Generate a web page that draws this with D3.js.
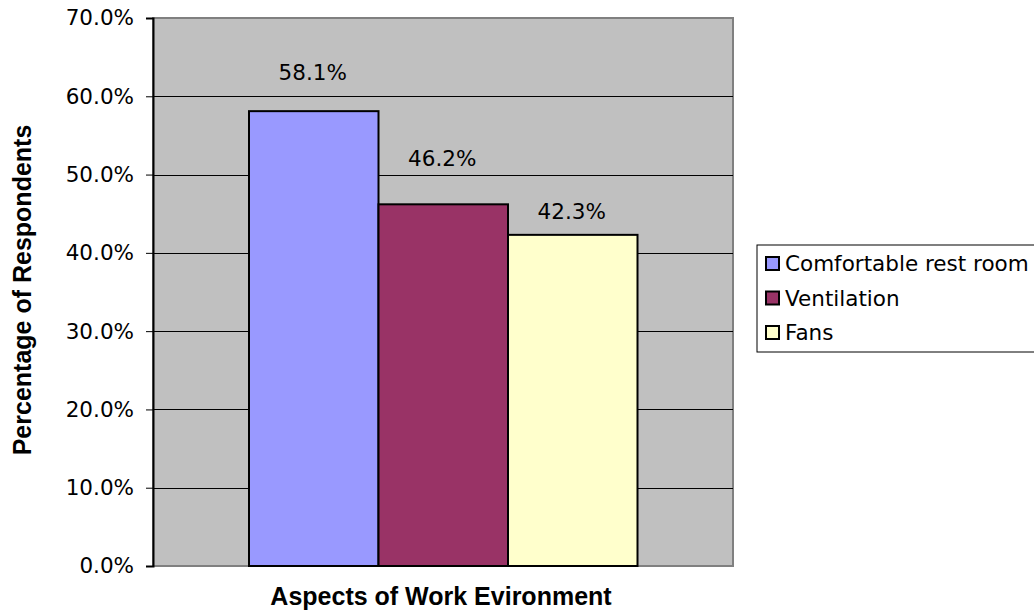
<!DOCTYPE html>
<html>
<head>
<meta charset="utf-8">
<script src="https://cdn.jsdelivr.net/npm/d3@7"></script>
<style>
  body { margin: 0; background: #fff; }
  svg { display: block; }
</style>
</head>
<body>
<svg id="chart" width="1034" height="614"></svg>
<script>
// Chart data.
const series  = [ 'Comfortable rest room', 'Ventilation', 'Fans' ];
const values  = [ 58.1, 46.2, 42.3 ];
const colors  = [ '#9999ff', '#993366', '#ffffcc' ];
const yTicks  = [ 0, 10, 20, 30, 40, 50, 60, 70 ];
// Excel nudges its labels around, so each one gets its own lift (px).
const labelLift = [ 31, 38, 16 ];

const plot = { left: 153, right: 733, top: 18, bottom: 566 };
const svg  = d3.select( '#chart' );
const bodyFont  = 'DejaVu Sans, Verdana, sans-serif';
const titleFont = 'Liberation Sans, Arial, sans-serif';
const fontSize  = 21.5;

const y = d3.scaleLinear( ).domain( [ 0, 70 ] ).range( [ plot.bottom, plot.top ] );
const x = d3.scaleBand( ).domain( series ).range( [ 249, 637.5 ] ).paddingInner( 0 );

// Plot area background and frame.
svg.append( 'rect' )
  .attr( 'x', plot.left ).attr( 'y', plot.top )
  .attr( 'width', plot.right - plot.left ).attr( 'height', plot.bottom - plot.top )
  .attr( 'fill', '#c0c0c0' ).attr( 'stroke', '#808080' ).attr( 'stroke-width', 2 );

// Gridlines.
svg.append( 'g' ).selectAll( 'line' )
  .data( yTicks.filter( t => t > 0 && t < 70 ) )
  .join( 'line' )
  .attr( 'x1', plot.left ).attr( 'x2', plot.right )
  .attr( 'y1', d => Math.round( y( d ) ) + 0.5 ).attr( 'y2', d => Math.round( y( d ) ) + 0.5 )
  .attr( 'stroke', '#000' ).attr( 'stroke-width', 1 );

// Bars.
svg.append( 'g' ).selectAll( 'rect' )
  .data( values )
  .join( 'rect' )
  .attr( 'x', ( d, i ) => x( series[i] ) )
  .attr( 'y', d => y( d ) )
  .attr( 'width', x.bandwidth( ) )
  .attr( 'height', d => plot.bottom - y( d ) )
  .attr( 'fill', ( d, i ) => colors[i] )
  .attr( 'stroke', '#000' ).attr( 'stroke-width', 2 );

// Value labels.
svg.append( 'g' ).selectAll( 'text' )
  .data( values )
  .join( 'text' )
  .attr( 'x', ( d, i ) => x( series[i] ) + x.bandwidth( ) / 2 - 1 )
  .attr( 'y', ( d, i ) => y( d ) - labelLift[i] )
  .attr( 'text-anchor', 'middle' )
  .attr( 'font-family', bodyFont )
  .attr( 'font-size', fontSize )
  .attr( 'fill', '#000' )
  .text( d => d.toFixed( 1 ) + '%' );

// Y axis.
const yAxis = svg.append( 'g' )
  .attr( 'transform', `translate( ${plot.left}, 0 )` )
  .call( d3.axisLeft( y ).tickValues( yTicks ).tickSize( 7 ).tickPadding( 12 )
    .tickFormat( d => d.toFixed( 1 ) + '%' ) );
yAxis.select( '.domain' ).attr( 'stroke', '#000' ).attr( 'stroke-width', 2 );
yAxis.selectAll( '.tick line' ).attr( 'stroke', '#000' );
yAxis.selectAll( '.tick text' )
  .attr( 'font-family', bodyFont )
  .attr( 'font-size', fontSize ).attr( 'fill', '#000' );

// Axis titles.
svg.append( 'text' )
  .attr( 'x', 441 ).attr( 'y', 605 )
  .attr( 'text-anchor', 'middle' )
  .attr( 'font-family', titleFont )
  .attr( 'font-weight', 'bold' ).attr( 'font-size', 25 )
  .text( 'Aspects of Work Evironment' );

svg.append( 'text' )
  .attr( 'transform', 'translate( 31, 290 ) rotate( -90 )' )
  .attr( 'text-anchor', 'middle' )
  .attr( 'font-family', titleFont )
  .attr( 'font-weight', 'bold' ).attr( 'font-size', 25 )
  .text( 'Percentage of Respondents' );

// Legend.
const legend = svg.append( 'g' ).attr( 'transform', 'translate( 757, 245 )' );
legend.append( 'rect' )
  .attr( 'x', 0 ).attr( 'y', 0 ).attr( 'width', 300 ).attr( 'height', 107 )
  .attr( 'fill', '#fff' ).attr( 'stroke', '#000' ).attr( 'stroke-width', 1 );
const items = legend.selectAll( 'g.item' )
  .data( series )
  .join( 'g' )
  .attr( 'class', 'item' )
  .attr( 'transform', ( d, i ) => `translate( 0, ${ 18 + i * 34.5 } )` );
items.append( 'rect' )
  .attr( 'x', 9 ).attr( 'y', -6 ).attr( 'width', 13 ).attr( 'height', 13 )
  .attr( 'fill', ( d, i ) => colors[i] )
  .attr( 'stroke', '#000' ).attr( 'stroke-width', 2 );
items.append( 'text' )
  .attr( 'x', 28 ).attr( 'y', 8 )
  .attr( 'font-family', bodyFont )
  .attr( 'font-size', fontSize )
  .text( d => d );
</script>
</body>
</html>
